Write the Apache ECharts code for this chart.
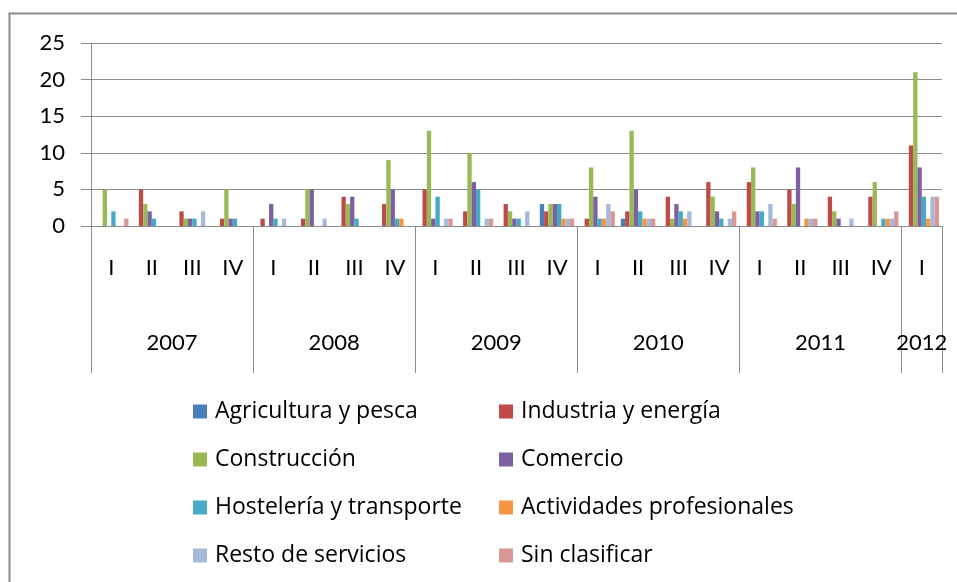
<!DOCTYPE html>
<html>
<head>
<meta charset="utf-8">
<script src="https://cdn.jsdelivr.net/npm/echarts@6/dist/echarts.min.js"></script>
<style>
  html, body { margin: 0; padding: 0; background: #fff; }
  #chart { width: 957px; height: 582px; }
</style>
</head>
<body>
<div id="chart"></div>
<script>
// trimestres y años (eje x en dos niveles)
var quarters = ['I', 'II', 'III', 'IV', 'I', 'II', 'III', 'IV', 'I', 'II', 'III', 'IV',
                'I', 'II', 'III', 'IV', 'I', 'II', 'III', 'IV', 'I'];
var years = ['2007', '2008', '2009', '2010', '2011', '2012'];
var quartersPerYear = [4, 4, 4, 4, 4, 1];
var yTicks = [0, 5, 10, 15, 20, 25];

var seriesNames = ['Agricultura y pesca', 'Industria y energía', 'Construcción', 'Comercio',
                   'Hostelería y transporte', 'Actividades profesionales', 'Resto de servicios', 'Sin clasificar'];

var agricultura = [0, 0, 0, 0, 0, 0, 0, 0, 0, 0, 0, 3, 0, 1, 0, 0, 0, 0, 0, 0, 0];
var industria   = [0, 5, 2, 1, 1, 1, 4, 3, 5, 2, 3, 2, 1, 2, 4, 6, 6, 5, 4, 4, 11];
var construccion = [5, 3, 1, 5, 0, 5, 3, 9, 13, 10, 2, 3, 8, 13, 1, 4, 8, 3, 2, 6, 21];
var comercio    = [0, 2, 1, 1, 3, 5, 4, 5, 1, 6, 1, 3, 4, 5, 3, 2, 2, 8, 1, 0, 8];
var hosteleria  = [2, 1, 1, 1, 1, 0, 1, 1, 4, 5, 1, 3, 1, 2, 2, 1, 2, 0, 0, 1, 4];
var actividades = [0, 0, 0, 0, 0, 0, 0, 1, 0, 0, 0, 1, 1, 1, 1, 0, 0, 1, 0, 1, 1];
var resto       = [0, 0, 2, 0, 1, 1, 0, 0, 1, 1, 2, 1, 3, 1, 2, 1, 3, 1, 1, 1, 4];
var sinClasif   = [1, 0, 0, 0, 0, 0, 0, 0, 1, 1, 0, 1, 2, 1, 0, 2, 1, 1, 0, 2, 4];

var allData = [agricultura, industria, construccion, comercio, hosteleria, actividades, resto, sinClasif];
var colors = ['#4a7ebb', '#be4b48', '#98b954', '#7d60a0', '#46aac5', '#f69544', '#a5b9da', '#da9694'];

// eje de años: 2 puntos por trimestre, etiqueta en el centro de cada año
var yearSlots = [];
var yearBounds = { 0: true };
var pos = 0;
for (var i = 0; i <= quarters.length * 2; i++) yearSlots.push('');
for (var y = 0; y < years.length; y++) {
    yearSlots[pos + quartersPerYear[y]] = years[y];
    pos += quartersPerYear[y] * 2;
    yearBounds[pos] = true;
}

var font = 'Lato, "Open Sans", sans-serif';
var legendFont = '"Open Sans", Lato, sans-serif';
var gray = '#8c8c8c';

var series = seriesNames.map(function (name, k) {
    return {
        name: name,
        type: 'bar',
        xAxisIndex: 0,
        data: allData[k],
        barGap: 0,
        barCategoryGap: '15%',
        itemStyle: { color: colors[k] }
    };
});

var legendText = { fontFamily: legendFont, fontSize: 23, color: '#000', lineHeight: 20, padding: [0, 0, 0, 3] };

var chart = echarts.init(document.getElementById('chart'));
chart.setOption({
    animation: false,
    color: colors,
    textStyle: { fontFamily: font },
    grid: { left: 91, right: 15, top: 43, bottom: 356 },
    graphic: [{
        type: 'rect',
        shape: { x: 9.5, y: 13.5, width: 1000, height: 1000 },
        style: { fill: 'none', stroke: gray, lineWidth: 2 }
    }],
    legend: [{
        orient: 'vertical',
        left: 193, top: 400, padding: 0,
        itemWidth: 14, itemHeight: 14, itemGap: 25,
        icon: 'rect',
        data: [seriesNames[0], seriesNames[2], seriesNames[4], seriesNames[6]],
        textStyle: legendText
    }, {
        orient: 'vertical',
        left: 499, top: 400, padding: 0,
        itemWidth: 14, itemHeight: 14, itemGap: 25,
        icon: 'rect',
        data: [seriesNames[1], seriesNames[3], seriesNames[5], seriesNames[7]],
        textStyle: legendText
    }],
    xAxis: [{
        type: 'category',
        position: 'bottom',
        data: quarters,
        boundaryGap: true,
        axisLine: { lineStyle: { color: gray } },
        axisTick: { interval: 0, length: 73, lineStyle: { color: gray } },
        axisLabel: { interval: 0, margin: 31, fontSize: 22, color: '#000', fontFamily: font }
    }, {
        type: 'category',
        position: 'bottom',
        data: yearSlots,
        boundaryGap: false,
        axisLine: { show: false },
        axisTick: {
            length: 147,
            interval: function (index) { return !!yearBounds[index]; },
            lineStyle: { color: gray }
        },
        axisLabel: {
            margin: 106, fontSize: 22, color: '#000', fontFamily: font,
            interval: function (index, value) { return value !== ''; }
        }
    }],
    yAxis: {
        type: 'value',
        min: yTicks[0],
        max: yTicks[yTicks.length - 1],
        interval: yTicks[1] - yTicks[0],
        axisLine: { show: true, lineStyle: { color: gray } },
        axisTick: { show: true, length: 10, lineStyle: { color: gray } },
        splitLine: { lineStyle: { color: gray } },
        axisLabel: { margin: 26, fontSize: 22, color: '#000', fontFamily: font }
    },
    series: series
});
</script>
</body>
</html>
